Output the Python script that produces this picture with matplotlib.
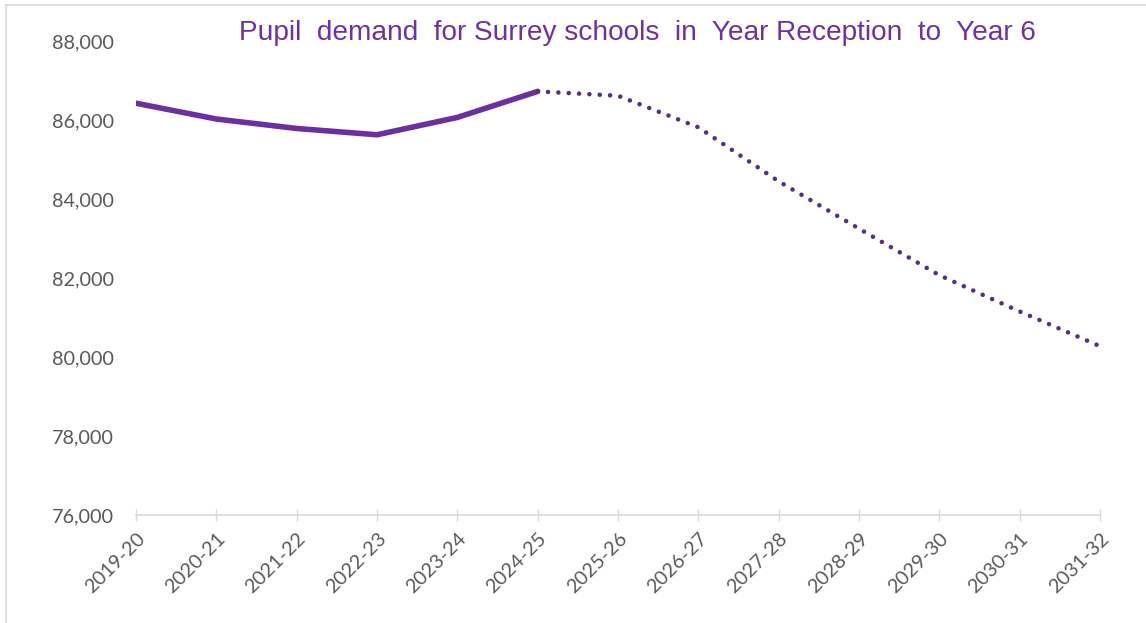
import matplotlib
matplotlib.use("Agg")
import matplotlib.pyplot as plt
from matplotlib.lines import Line2D
from matplotlib.ticker import FuncFormatter

# School years on the category axis
years = ["2019-20", "2020-21", "2021-22", "2022-23", "2023-24", "2024-25",
         "2025-26", "2026-27", "2027-28", "2028-29", "2029-30", "2030-31",
         "2031-32"]

# Actual pupil numbers (up to 2024-25)
actual = [86440, 86040, 85800, 85640, 86080, 86740]

# Forecast pupil numbers (from 2024-25 onwards)
forecast = [86740, 86630, 85830, 84460, 83260, 82080, 81160, 80280]

y_ticks = [76000, 78000, 80000, 82000, 84000, 86000, 88000]

title = "Pupil  demand  for Surrey schools  in  Year Reception  to  Year 6"

W, H = 1146, 623
fig = plt.figure(figsize=(W / 100, H / 100), dpi=100)
fig.patch.set_facecolor("white")

ax = fig.add_axes([136 / W, 1 - 515 / H, (1100 - 136) / W, (515 - 41.7) / H])

x_act = list(range(len(actual)))
x_fc = list(range(len(actual) - 1, len(actual) - 1 + len(forecast)))

ax.plot(x_act, actual, color="#6B2FA0", lw=4.0, solid_capstyle="round",
        solid_joinstyle="round", zorder=3)
ax.plot(x_fc, forecast, color="#55307D", lw=3.3,
        linestyle=(0, (0.01, 2.25)), dash_capstyle="round", zorder=3)

ax.set_xlim(0, len(years) - 1)
ax.set_ylim(y_ticks[0], y_ticks[-1])
ax.set_yticks(y_ticks)
ax.yaxis.set_major_formatter(FuncFormatter(lambda v, p: f"{int(v):,}"))
ax.set_xticks(range(len(years)))
ax.set_xticklabels(years, rotation=45, ha="right", rotation_mode="anchor")

for lab in ax.get_yticklabels() + ax.get_xticklabels():
    lab.set_fontfamily("Lato")
    lab.set_fontsize(14.3)
    lab.set_color("#595959")

for side in ("top", "right", "left"):
    ax.spines[side].set_visible(False)
ax.spines["bottom"].set_color("#D9D9D9")
ax.spines["bottom"].set_linewidth(1.2)

ax.tick_params(axis="y", length=0, pad=16)
ax.tick_params(axis="x", direction="inout", length=9, width=1.0,
               color="#D9D9D9", pad=6)

fig.text(637 / W, 1 - 33 / H, title, ha="center", va="center",
         fontsize=20.2, color="#7030A0", family="Liberation Sans")

# Thin outer frame on the top and left edges
fig.add_artist(Line2D([6 / W, 1], [1 - 5 / H, 1 - 5 / H],
                      transform=fig.transFigure, color="#D9D9D9", lw=1.2))
fig.add_artist(Line2D([6 / W, 6 / W], [0, 1 - 5 / H],
                      transform=fig.transFigure, color="#D9D9D9", lw=1.2))

fig.savefig("out.png", dpi=100, facecolor="white")
